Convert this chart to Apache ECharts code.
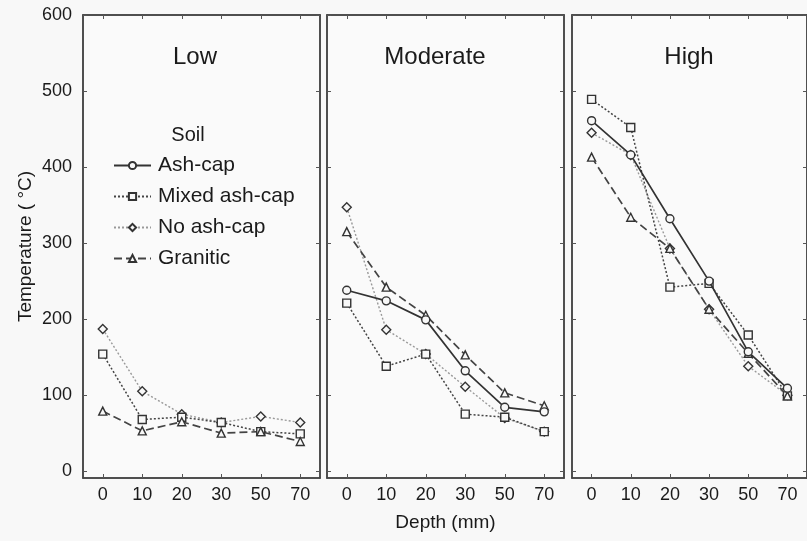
<!DOCTYPE html>
<html><head><meta charset="utf-8">
<script src="https://cdn.jsdelivr.net/npm/echarts@6/dist/echarts.min.js"></script>
<style>html,body{margin:0;padding:0;background:#f8f8f8}#c{width:807px;height:541px}</style>
</head><body><div id="c"></div>
<script>
const depths = ['0','10','20','30','50','70'];
const yTickValues = [0,100,200,300,400,500,600];
const panelNames = ['Low','Moderate','High'];
const soilNames = ['Ash-cap','Mixed ash-cap','No ash-cap','Granitic'];
// Low
const lowAshCap = [];
const lowMixed = [154,68,71,64,52,49];
const lowNoAsh = [187,105,75,64,72,64];
const lowGranitic = [79,53,65,50,52,39];
// Moderate
const modAshCap = [238,224,199,132,84,78];
const modMixed = [221,138,154,75,71,52];
const modNoAsh = [347,186,154,111,70,52];
const modGranitic = [315,242,205,153,103,86];
// High
const highAshCap = [461,416,332,250,157,109];
const highMixed = [489,452,242,247,179,99];
const highNoAsh = [445,416,293,213,138,100];
const highGranitic = [413,334,293,213,155,99];

const panelData = [
  {'Ash-cap': lowAshCap, 'Mixed ash-cap': lowMixed, 'No ash-cap': lowNoAsh, 'Granitic': lowGranitic},
  {'Ash-cap': modAshCap, 'Mixed ash-cap': modMixed, 'No ash-cap': modNoAsh, 'Granitic': modGranitic},
  {'Ash-cap': highAshCap, 'Mixed ash-cap': highMixed, 'No ash-cap': highNoAsh, 'Granitic': highGranitic}
];

const FONT = 'Liberation Sans, Arial, sans-serif';
const BG = '#f8f8f8';
const TXT = '#1a1a1a';
const styles = {
  'Ash-cap': {type:'solid', color:'#333', width:1.7, symbol:'circle', size:8, z:5},
  'Mixed ash-cap': {type:[2,2], color:'#444', width:1.5, symbol:'rect', size:8, z:4},
  'No ash-cap': {type:[2,2], color:'#999', width:1.4, symbol:'diamond', size:9, z:3},
  'Granitic': {type:[8,4], color:'#444', width:1.7, symbol:'triangle', size:8, z:4}
};

const gridLefts = [83, 327, 572];
const grids = gridLefts.map(l => ({left:l, top:15, width:237, height:463, show:true,
  borderColor:'#444', borderWidth:1.5, backgroundColor:'#fafafa'}));

const xAxes = [], yAxes = [], series = [];
gridLefts.forEach((l, i) => {
  xAxes.push({type:'category', gridIndex:i, data:depths, boundaryGap:true, position:'bottom',
    axisLine:{show:true, onZero:false, lineStyle:{color:'#444', width:1.5}},
    axisTick:{show:true, inside:true, length:4, alignWithLabel:true, lineStyle:{color:'#555'}},
    axisLabel:{show:true, margin:8, fontSize:18, color:TXT, fontFamily:FONT},
    name: i === 1 ? 'Depth (mm)' : '', nameLocation:'middle', nameGap:35,
    nameTextStyle:{fontSize:19, color:TXT, fontFamily:FONT}});
  xAxes.push({type:'category', gridIndex:i, data:depths, boundaryGap:true, position:'top',
    axisLine:{show:true, onZero:false, lineStyle:{color:'#444', width:1.5}},
    axisTick:{show:true, inside:true, length:4, alignWithLabel:true, lineStyle:{color:'#555'}},
    axisLabel:{show:false}});
  yAxes.push({type:'value', gridIndex:i, min:-9, max:600, position:'left',
    axisLine:{show:true, onZero:false, lineStyle:{color:'#444', width:1.5}},
    axisTick:{show:true, inside:true, length:4, customValues:yTickValues, lineStyle:{color:'#555'}},
    axisLabel:{show:i === 0, customValues:yTickValues, margin:11, fontSize:18, color:TXT, fontFamily:FONT},
    splitLine:{show:false},
    name: i === 0 ? 'Temperature ( °C)' : '', nameLocation:'middle', nameGap:48,
    nameTextStyle:{fontSize:19, color:TXT, fontFamily:FONT}});
  yAxes.push({type:'value', gridIndex:i, min:-9, max:600, position:'right',
    axisLine:{show:true, onZero:false, lineStyle:{color:'#444', width:1.5}},
    axisTick:{show:true, inside:true, length:4, customValues:yTickValues, lineStyle:{color:'#555'}},
    axisLabel:{show:false}, splitLine:{show:false}});
  soilNames.forEach(name => {
    const d = panelData[i][name];
    if (!d || !d.length) return;
    const s = styles[name];
    series.push({type:'line', name:name, xAxisIndex:i*2, yAxisIndex:i*2, data:d,
      symbol:s.symbol, symbolSize:s.size, z:s.z,
      lineStyle:{type:s.type, color:s.color, width:s.width},
      itemStyle:{color:BG, borderColor:'#333', borderWidth:1.4},
      animation:false});
  });
});

const titlePos = [[195, 57], [435, 57], [689, 57]];
const graphics = panelNames.map((t, i) => ({type:'text', x:titlePos[i][0], y:titlePos[i][1],
  style:{text:t, fontSize:24, fontFamily:FONT, fill:TXT, textAlign:'center', textVerticalAlign:'middle'}}));
graphics.push({type:'text', x:188, y:135, style:{text:'Soil', fontSize:20, fontFamily:FONT, fill:TXT,
  textAlign:'center', textVerticalAlign:'middle'}});

const chart = echarts.init(document.getElementById('c'), null, {renderer:'canvas'});
chart.setOption({
  backgroundColor: BG,
  animation:false,
  grid: grids,
  xAxis: xAxes,
  yAxis: yAxes,
  series: series,
  graphic: graphics,
  legend: {data: soilNames, orient:'vertical', left:108, top:150, itemWidth:37, itemHeight:9, itemGap:10,
    textStyle:{fontSize:21, fontFamily:FONT, color:TXT, padding:[0,0,0,2]}, selectedMode:false}
});
</script></body></html>
